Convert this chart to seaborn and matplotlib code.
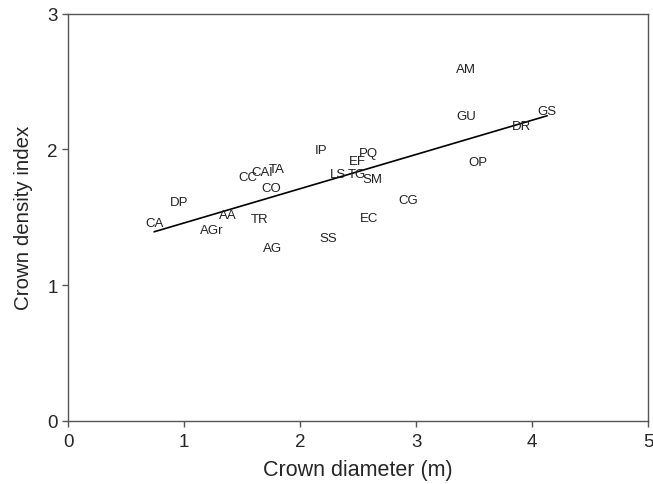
import matplotlib
matplotlib.use("Agg")
import matplotlib.pyplot as plt
import seaborn as sns
import pandas as pd

species = ["CA", "DP", "AA", "AGr", "TR", "AG", "CC", "CAl", "TA", "CO", "IP", "SS",
           "LS", "TG", "SM", "EF", "PQ", "EC", "CG", "AM", "GU", "OP", "DR", "GS"]
crown_diameter = [0.74, 0.96, 1.38, 1.24, 1.65, 1.76, 1.55, 1.67, 1.80, 1.75, 2.18, 2.24,
                  2.33, 2.49, 2.62, 2.49, 2.59, 2.59, 2.93, 3.43, 3.43, 3.53, 3.91, 4.13]
crown_density = [1.455, 1.615, 1.515, 1.405, 1.485, 1.275, 1.795, 1.835, 1.855, 1.715, 1.995, 1.345,
                 1.815, 1.815, 1.785, 1.915, 1.975, 1.495, 1.625, 2.59, 2.245, 1.905, 2.175, 2.28]

df = pd.DataFrame({"species": species, "x": crown_diameter, "y": crown_density})

sns.set_style("ticks")
plt.rcParams["font.family"] = ["Liberation Sans", "DejaVu Sans"]

fig = plt.figure(figsize=(6.53, 4.85), dpi=100)
ax = fig.add_axes([68.3 / 653, (485 - 421.7) / 485, (648 - 68.3) / 653, (421.7 - 14.7) / 485])

sns.regplot(data=df, x="x", y="y", ax=ax, scatter=False, ci=None, truncate=True,
            line_kws={"color": "black", "linewidth": 1.2})

for s, xv, yv in zip(df["species"], df["x"], df["y"]):
    ax.text(xv, yv, s, ha="center", va="center", fontsize=9.5, color="#222222")

ax.set_xlim(0, 5)
ax.set_ylim(0, 3)
ax.set_xticks([0, 1, 2, 3, 4, 5])
ax.set_yticks([0, 1, 2, 3])
ax.set_xlabel("Crown diameter (m)", fontsize=15.5, labelpad=6)
ax.set_ylabel("Crown density index", fontsize=14.8, labelpad=10)
ax.tick_params(labelsize=13.5, length=4, width=1, color="#555555", direction="out")
ax.tick_params(axis="x", pad=5)
for sp in ax.spines.values():
    sp.set_visible(True)
    sp.set_color("#555555")
    sp.set_linewidth(1)

fig.savefig("out.png", dpi=100)
